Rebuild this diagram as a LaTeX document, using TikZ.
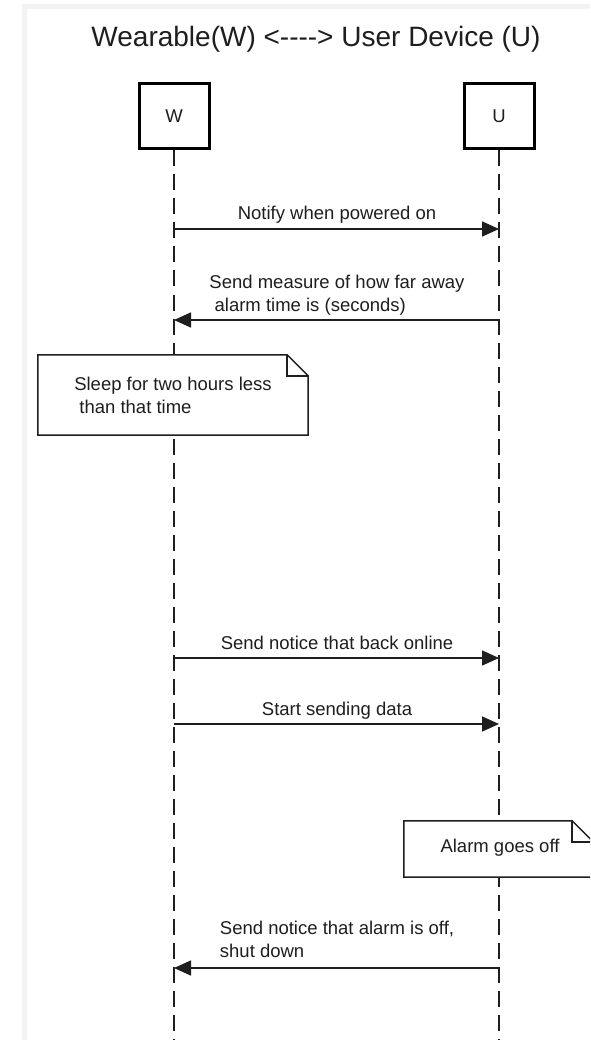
\documentclass[tikz,border=0pt]{standalone}
\usepackage{fontspec}
\setmainfont{Liberation Sans}
\usetikzlibrary{arrows.meta,calc}
\definecolor{ink}{HTML}{1E1E1E}
\definecolor{frame}{HTML}{F3F3F3}
\begin{document}
\begin{tikzpicture}[x=1pt,y=-1pt,
  lbl/.style={font=\fontsize{18.5}{23}\selectfont, text=ink, inner sep=0pt},
  actor/.style={draw=black, line width=3pt, fill=white, minimum width=70pt, minimum height=65pt, font=\fontsize{18.5}{23}\selectfont, text=ink, inner sep=0pt},
  life/.style={draw=ink, line width=1.5pt, dash pattern=on 16pt off 8pt},
  msg/.style={draw=ink, line width=1.6pt, -{Triangle[length=17pt,width=15pt]}},
  notearea/.style={inner sep=0pt, draw=none},
  noteline/.style={draw=ink, line width=1.5pt, fill=white, line join=miter}
]
\useasboundingbox (0,0) rectangle (590,1040);
\clip (0,0) rectangle (590,1040);
\fill[white] (0,0) rectangle (590,1040);
\fill[frame] (22,4) rectangle (590,9);
\fill[frame] (22,4) rectangle (27,1040);

% title
\node[font=\fontsize{28}{32}\selectfont, text=ink, anchor=base, inner sep=0pt] (title) at (316,47) {Wearable(W) <{-}{-}{-}{-}> User Device (U)};

% participants
\node[actor] (W) at (174,116.5) {W};
\node[actor] (U) at (499,116.5) {U};
\coordinate (Wend) at (174,1045);
\coordinate (Uend) at (499,1045);
\draw[life] (W.south) -- (Wend);
\draw[life] (U.south) -- (Uend);

% message 1
\coordinate (w1) at (174,229);
\coordinate (u1) at (499,229);
\draw[msg] (w1) -- (u1);
\node[lbl, anchor=base] (m1) at (337,220) {Notify when powered on};

% message 2
\coordinate (w2) at (174,320);
\coordinate (u2) at (499,320);
\draw[msg] (u2) -- (w2);
\node[lbl, align=left, anchor=base] (m2) at (337,311) {Send measure of how far away\\\ alarm time is (seconds)};

% note 1
\path node[notearea, minimum width=270pt, minimum height=80pt] (n1) at (173,395) {};
\draw[noteline] (n1.north west) -- ($(n1.north east)+(-21,0)$) -- ($(n1.north east)+(0,21)$) -- (n1.south east) -- (n1.south west) -- cycle;
\draw[draw=ink, line width=1.5pt] ($(n1.north east)+(-21,0)$) |- ($(n1.north east)+(0,21)$);
\node[lbl, align=left] (n1t) at (n1) {Sleep for two hours less\\\ than that time};

% message 3
\coordinate (w3) at (174,658);
\coordinate (u3) at (499,658);
\draw[msg] (w3) -- (u3);
\node[lbl, anchor=base] (m3) at (337,649) {Send notice that back online};

% message 4
\coordinate (w4) at (174,724);
\coordinate (u4) at (499,724);
\draw[msg] (w4) -- (u4);
\node[lbl, anchor=base] (m4) at (337,715) {Start sending data};

% note 2
\path node[notearea, minimum width=189pt, minimum height=56pt] (n2) at (498.5,849) {};
\draw[noteline] (n2.north west) -- ($(n2.north east)+(-21,0)$) -- ($(n2.north east)+(0,21)$) -- (n2.south east) -- (n2.south west) -- cycle;
\draw[draw=ink, line width=1.5pt] ($(n2.north east)+(-21,0)$) |- ($(n2.north east)+(0,21)$);
\node[lbl] (n2t) at (500,848) {Alarm goes off};

% message 5
\coordinate (w5) at (174,968);
\coordinate (u5) at (499,968);
\draw[msg] (u5) -- (w5);
\node[lbl, align=left, anchor=base] (m5) at (337,957) {Send notice that alarm is off,\\shut down};
\end{tikzpicture}
\end{document}
